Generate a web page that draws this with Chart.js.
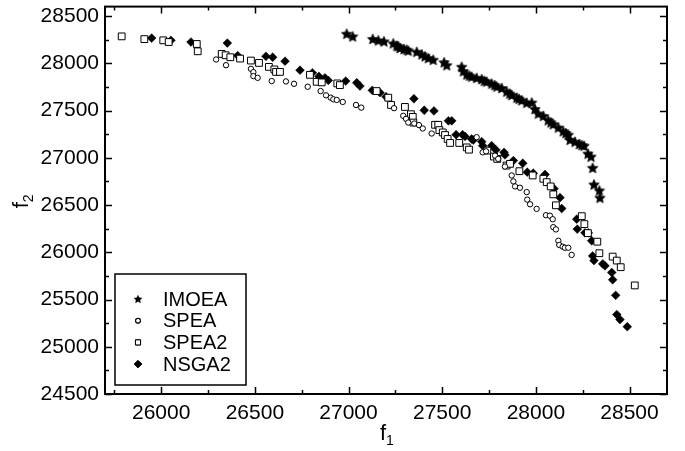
<!DOCTYPE html>
<html>
<head>
<meta charset="utf-8">
<title>f1 / f2 fronts</title>
<script src="https://cdn.jsdelivr.net/npm/chart.js@4.4.1"></script>
<style>
  html, body { margin: 0; padding: 0; background: #fff; }
  canvas { display: block; }
</style>
</head>
<body>
<canvas id="front" width="685" height="451"></canvas>
<script>
(function () {
  'use strict';

  // non-dominated solutions per algorithm, (f1, f2)
  var imoeaF1 = [26990, 27022, 27129, 27159, 27189, 27239, 27257, 27266, 27275, 27296, 27310, 27319, 27364, 27391, 27408, 27426, 27452, 27510, 27524, 27604, 27613, 27631, 27645, 27657, 27684, 27711, 27725, 27737, 27764, 27780, 27791, 27818, 27844, 27860, 27871, 27898, 27910, 27924, 27951, 27978, 27995, 28013, 28040, 28066, 28080, 28093, 28120, 28146, 28160, 28173, 28182, 28209, 28232, 28245, 28257, 28278, 28294, 28303, 28310, 28339, 28342];
  var imoeaF2 = [28313, 28285, 28258, 28243, 28232, 28211, 28187, 28180, 28162, 28151, 28145, 28135, 28122, 28095, 28074, 28056, 28038, 28011, 27980, 27964, 27917, 27882, 27870, 27859, 27846, 27833, 27815, 27806, 27785, 27770, 27754, 27738, 27701, 27680, 27664, 27636, 27625, 27609, 27583, 27585, 27517, 27468, 27444, 27398, 27375, 27356, 27321, 27281, 27262, 27244, 27191, 27170, 27146, 27135, 27128, 27044, 27013, 26894, 26718, 26655, 26578];

  var speaF1 = [26293, 26346, 26479, 26492, 26492, 26515, 26590, 26666, 26709, 26782, 26851, 26880, 26905, 26919, 26937, 26969, 27040, 27068, 27243, 27292, 27307, 27319, 27351, 27376, 27396, 27444, 27684, 27716, 27734, 27782, 27799, 27835, 27871, 27880, 27889, 27915, 27951, 27954, 27969, 28004, 28054, 28075, 28090, 28093, 28107, 28120, 28125, 28143, 28155, 28173, 28191];
  var speaF2 = [28040, 27980, 27941, 27906, 27864, 27846, 27812, 27808, 27783, 27752, 27706, 27661, 27636, 27619, 27612, 27591, 27559, 27531, 27525, 27444, 27412, 27373, 27363, 27346, 27310, 27257, 27218, 27058, 27068, 27023, 26988, 26907, 26813, 26750, 26697, 26683, 26637, 26557, 26508, 26459, 26392, 26387, 26350, 26266, 26242, 26122, 26077, 26059, 26048, 26048, 25972];

  var spea2F1 = [25789, 25910, 26011, 26040, 26190, 26195, 26323, 26344, 26369, 26421, 26479, 26522, 26575, 26604, 26613, 26634, 26794, 26830, 26857, 26940, 26954, 27150, 27212, 27227, 27301, 27333, 27343, 27346, 27462, 27479, 27485, 27503, 27515, 27529, 27542, 27591, 27631, 27643, 27741, 27776, 27794, 27844, 27862, 27912, 27983, 28040, 28058, 28079, 28093, 28107, 28245, 28259, 28278, 28328, 28339, 28410, 28432, 28453, 28528];
  var spea2F2 = [28285, 28256, 28243, 28225, 28204, 28127, 28099, 28085, 28064, 28050, 28029, 28004, 27962, 27935, 27909, 27909, 27878, 27804, 27798, 27787, 27769, 27706, 27636, 27559, 27538, 27461, 27433, 27373, 27349, 27349, 27293, 27268, 27241, 27199, 27157, 27157, 27110, 27086, 27076, 27013, 26988, 26918, 26936, 26858, 26813, 26778, 26742, 26697, 26613, 26497, 26382, 26298, 26203, 26112, 25990, 25954, 25912, 25842, 25649];

  var nsga2F1 = [25949, 26052, 26159, 26353, 26408, 26559, 26595, 26661, 26741, 26807, 26842, 26874, 26892, 26985, 27044, 27061, 27127, 27168, 27200, 27349, 27404, 27456, 27533, 27551, 27574, 27609, 27622, 27657, 27666, 27711, 27716, 27764, 27787, 27830, 27835, 27880, 27930, 27954, 27986, 28049, 28097, 28129, 28138, 28218, 28221, 28262, 28280, 28298, 28303, 28310, 28357, 28369, 28405, 28410, 28426, 28432, 28449, 28488];
  var nsga2F2 = [28267, 28243, 28225, 28214, 28082, 28074, 28064, 28022, 27927, 27899, 27861, 27846, 27819, 27812, 27794, 27759, 27714, 27689, 27646, 27625, 27503, 27496, 27391, 27391, 27244, 27244, 27226, 27199, 27188, 27170, 27128, 27128, 27083, 27058, 27030, 26970, 26942, 26848, 26837, 26823, 26673, 26578, 26463, 26350, 26245, 26206, 26206, 26122, 25961, 25912, 25877, 25856, 25786, 25709, 25544, 25341, 25288, 25212];

  var seriesNames = ['IMOEA', 'SPEA', 'SPEA2', 'NSGA2'];
  var xTicks = [26000, 26500, 27000, 27500, 28000, 28500];
  var yTicks = [24500, 25000, 25500, 26000, 26500, 27000, 27500, 28000, 28500];

  var FONT = "'Liberation Sans', Arial, Helvetica, sans-serif";

  function zip(xs, ys) {
    return xs.map(function (x, i) { return { x: x, y: ys[i] }; });
  }

  // filled five-point star; Chart.js only has the line-drawn one
  function makeStar(r) {
    var size = Math.ceil(r * 2 + 2);
    var c = document.createElement('canvas');
    c.width = size;
    c.height = size;
    var g = c.getContext('2d');
    g.translate(size / 2, size / 2 + r * 0.1);
    g.beginPath();
    for (var i = 0; i < 10; i++) {
      var rr = i % 2 === 0 ? r : r * 0.48;
      var a = -Math.PI / 2 + i * Math.PI / 5;
      g.lineTo(Math.cos(a) * rr, Math.sin(a) * rr);
    }
    g.closePath();
    g.fillStyle = '#000';
    g.fill();
    g.strokeStyle = '#000';
    g.lineWidth = 0.6;
    g.stroke();
    return c;
  }

  var starBig = makeStar(5.6);
  var starSmall = makeStar(4);

  function minorsOf(ticks, step, min, max) {
    var out = [];
    ticks.forEach(function (v) {
      [v - step, v + step].forEach(function (m) {
        if (m > min && m < max && out.indexOf(m) < 0 && ticks.indexOf(m) < 0) out.push(m);
      });
    });
    return out;
  }

  // boxed frame with inward ticks on all four sides
  var framePlugin = {
    id: 'frame',
    beforeDatasetsDraw: function (chart) {
      var ctx = chart.ctx;
      var a = chart.chartArea;
      var xs = chart.scales.x;
      var ys = chart.scales.y;
      ctx.save();
      ctx.strokeStyle = '#000';
      ctx.lineWidth = 1.5;

      function xTick(v, len) {
        var px = Math.round(xs.getPixelForValue(v)) + 0.5;
        ctx.beginPath();
        ctx.moveTo(px, a.bottom); ctx.lineTo(px, a.bottom - len);
        ctx.moveTo(px, a.top); ctx.lineTo(px, a.top + len);
        ctx.stroke();
      }
      function yTick(v, len) {
        var py = Math.round(ys.getPixelForValue(v)) + 0.5;
        ctx.beginPath();
        ctx.moveTo(a.left, py); ctx.lineTo(a.left + len, py);
        ctx.moveTo(a.right, py); ctx.lineTo(a.right - len, py);
        ctx.stroke();
      }
      xTicks.forEach(function (v) { xTick(v, 7); });
      minorsOf(xTicks, 250, xs.min, xs.max).forEach(function (v) { xTick(v, 4); });
      yTicks.forEach(function (v) { yTick(v, 7); });
      minorsOf(yTicks, 250, ys.min, ys.max).forEach(function (v) { yTick(v, 4); });

      ctx.lineWidth = 2;
      ctx.strokeRect(a.left, a.top, a.right - a.left, a.bottom - a.top);
      ctx.restore();
    }
  };

  // axis titles with subscripts and the boxed legend
  var annotatePlugin = {
    id: 'annotate',
    afterDraw: function (chart) {
      var ctx = chart.ctx;
      var a = chart.chartArea;
      ctx.save();
      ctx.fillStyle = '#000';
      ctx.textBaseline = 'alphabetic';

      // f1 under the x axis
      ctx.font = '22px ' + FONT;
      var fw = ctx.measureText('f').width;
      var cx = (a.left + a.right) / 2;
      ctx.textAlign = 'left';
      ctx.fillText('f', cx - fw / 2 - 3, 440);
      ctx.font = '14px ' + FONT;
      ctx.fillText('1', cx + fw / 2 - 3, 445);

      // f2 beside the y axis
      ctx.save();
      ctx.translate(28, (a.top + a.bottom) / 2 + 8);
      ctx.rotate(-Math.PI / 2);
      ctx.font = '22px ' + FONT;
      ctx.fillText('f', 0, 0);
      ctx.font = '14px ' + FONT;
      ctx.fillText('2', fw, 5);
      ctx.restore();

      // legend box
      var lx = a.left + 10;
      var ly = a.bottom - 120;
      var lw = 131;
      var lh = 111;
      ctx.lineWidth = 1.5;
      ctx.strokeStyle = '#000';
      ctx.strokeRect(lx, ly, lw, lh);

      ctx.font = '20px ' + FONT;
      ctx.textBaseline = 'middle';
      seriesNames.forEach(function (name, i) {
        var my = ly + 25 + i * 21.7;
        var mx = lx + 23;
        var ds = chart.data.datasets[i];
        if (i === 0) {
          ctx.drawImage(starSmall, mx - starSmall.width / 2, my - starSmall.height / 2);
        } else {
          Chart.helpers.drawPoint(ctx, {
            pointStyle: ds.pointStyle,
            radius: ds.legendRadius,
            borderWidth: 1,
            rotation: 0
          }, mx, my);
          ctx.fillStyle = ds.backgroundColor;
          ctx.strokeStyle = '#000';
          ctx.lineWidth = 1;
          ctx.fill();
          ctx.stroke();
        }
        ctx.fillStyle = '#000';
        ctx.fillText(name, lx + 48, my + 1);
      });
      ctx.restore();
    }
  };

  var datasets = [
    {
      label: seriesNames[0],
      data: zip(imoeaF1, imoeaF2),
      pointStyle: starBig,
      pointRadius: 5.6,
      backgroundColor: '#000',
      borderColor: '#000'
    },
    {
      label: seriesNames[1],
      data: zip(speaF1, speaF2),
      pointStyle: 'circle',
      pointRadius: 2.7,
      legendRadius: 2.3,
      pointBorderWidth: 1,
      backgroundColor: '#fff',
      borderColor: '#000'
    },
    {
      label: seriesNames[2],
      data: zip(spea2F1, spea2F2),
      pointStyle: 'rect',
      pointRadius: 4.8,
      legendRadius: 3.6,
      pointBorderWidth: 1,
      backgroundColor: '#fff',
      borderColor: '#000'
    },
    {
      label: seriesNames[3],
      data: zip(nsga2F1, nsga2F2),
      pointStyle: 'rectRot',
      pointRadius: 4.4,
      legendRadius: 3.6,
      pointBorderWidth: 0.5,
      backgroundColor: '#000',
      borderColor: '#000'
    }
  ];

  new Chart(document.getElementById('front'), {
    type: 'scatter',
    data: { datasets: datasets },
    options: {
      responsive: false,
      animation: false,
      events: [],
      layout: { padding: { left: 0, top: 5, right: 18, bottom: 0 } },
      plugins: {
        legend: { display: false },
        tooltip: { enabled: false }
      },
      scales: {
        x: {
          type: 'linear',
          min: 25700,
          max: 28700,
          grid: { display: false, drawTicks: false },
          border: { display: false },
          afterBuildTicks: function (scale) {
            scale.ticks = xTicks.map(function (v) { return { value: v }; });
          },
          afterFit: function (scale) {
            scale.height = 57;
            scale.paddingLeft = 0;
            scale.paddingRight = 0;
          },
          ticks: {
            color: '#000',
            font: { family: FONT, size: 21 },
            padding: 7,
            maxRotation: 0,
            autoSkip: false,
            callback: function (v) { return String(v); }
          }
        },
        y: {
          type: 'linear',
          min: 24500,
          max: 28600,
          grid: { display: false, drawTicks: false },
          border: { display: false },
          afterBuildTicks: function (scale) {
            scale.ticks = yTicks.map(function (v) { return { value: v }; });
          },
          afterFit: function (scale) {
            scale.width = 105;
            scale.paddingTop = 0;
            scale.paddingBottom = 0;
          },
          ticks: {
            color: '#000',
            font: { family: FONT, size: 21 },
            padding: 6,
            autoSkip: false,
            callback: function (v) { return String(v); }
          }
        }
      }
    },
    plugins: [framePlugin, annotatePlugin]
  });
})();
</script>
</body>
</html>
